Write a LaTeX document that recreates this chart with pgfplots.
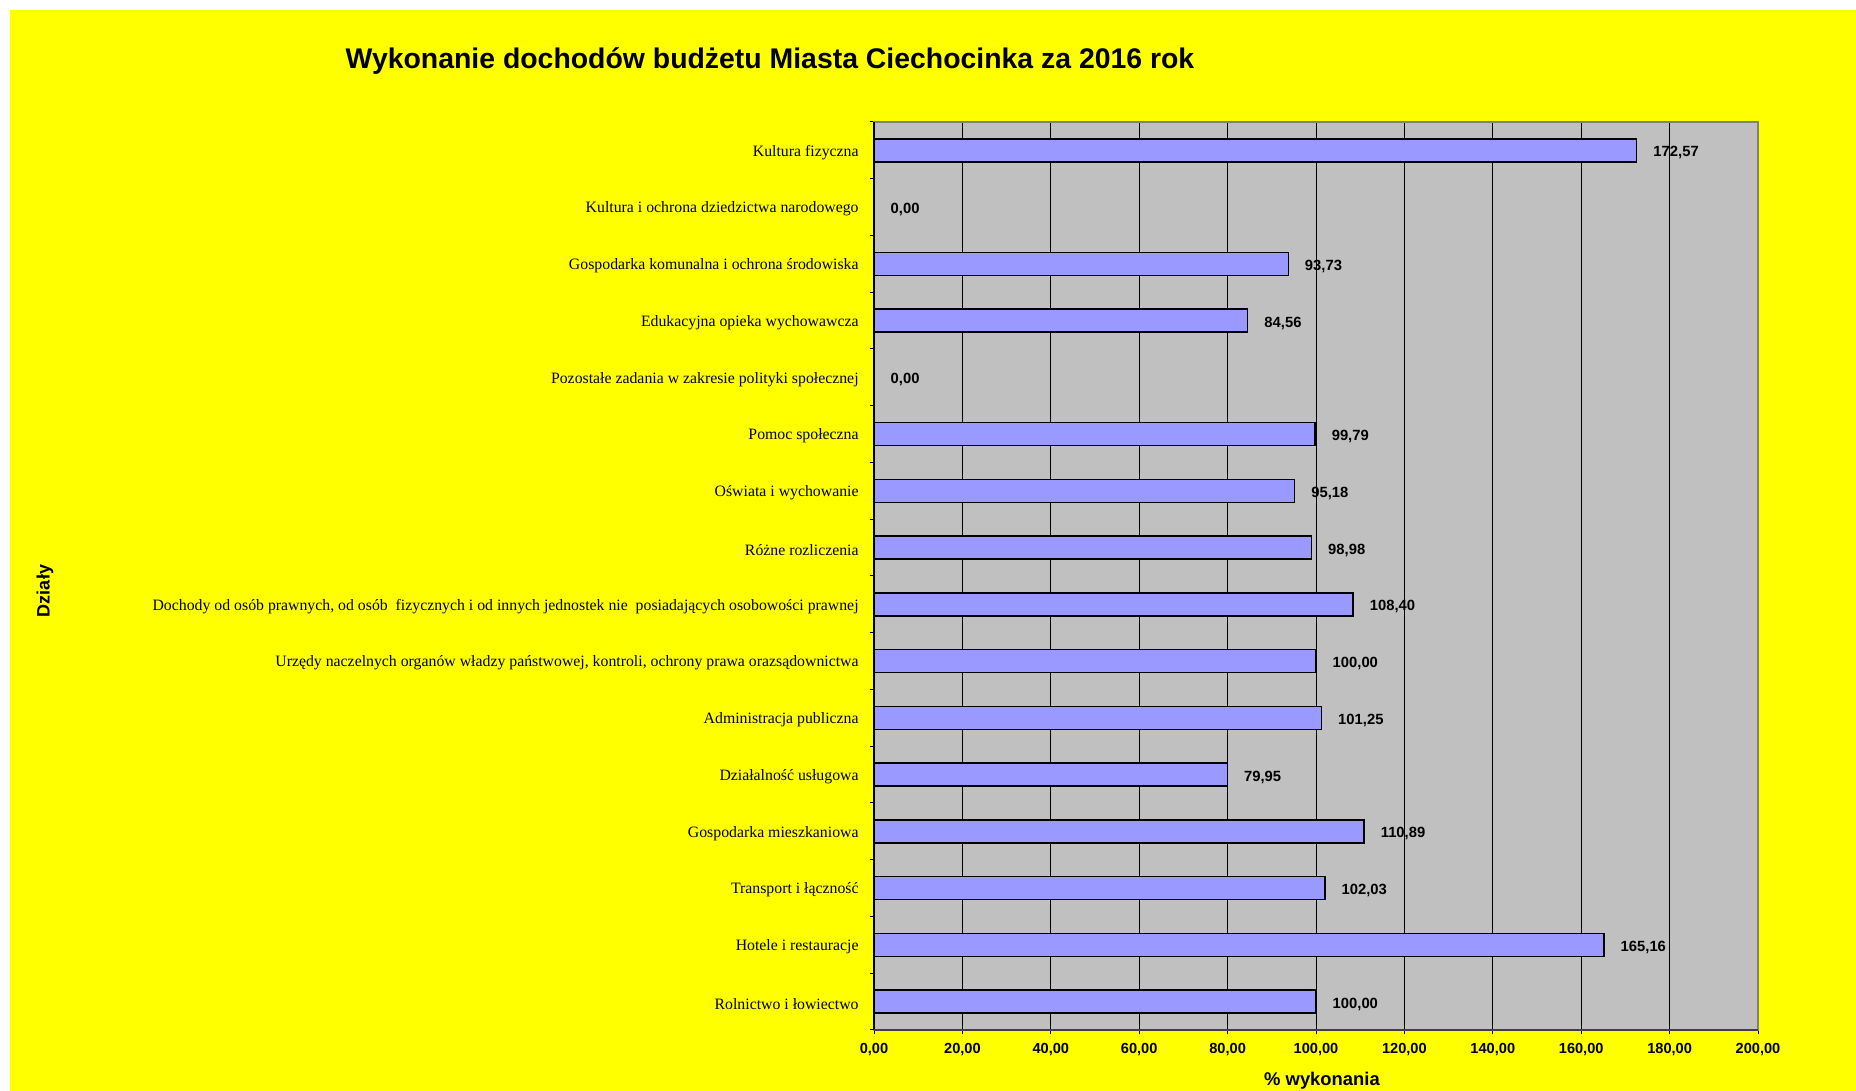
\documentclass[border=0pt]{standalone}
\usepackage{fontspec}
\setmainfont{Liberation Sans}
\newfontfamily\tnr{Liberation Serif}
\usepackage{pgfplots}
\pgfplotsset{compat=1.18}
\definecolor{bgyellow}{HTML}{FFFF00}
\definecolor{plotbg}{HTML}{C0C0C0}
\definecolor{barc}{HTML}{9999FF}
\definecolor{frame}{HTML}{808080}
\begin{document}
\begin{tikzpicture}[x=1pt,y=1pt]
\useasboundingbox (0,0) rectangle (928,545.5);
\fill[white] (0,0) rectangle (928,545.5);
\fill[bgyellow] (5,0) rectangle (928,540.5);
\node[font=\fontsize{14.2}{16}\selectfont\bfseries] at (385,515) {Wykonanie dochodów budżetu Miasta Ciechocinka za 2016 rok};
\node[font=\fontsize{9}{10}\selectfont\bfseries, rotate=90] at (22.5,250) {Działy};
\node[font=\fontsize{9.2}{10}\selectfont\bfseries, inner sep=0pt] at (661,5) {\% wykonania};
\begin{axis}[
  at={(437pt,30.5pt)}, anchor=south west,
  scale only axis, width=442pt, height=454pt,
  xbar, bar width=0.405,
  xmin=0, xmax=200, ymin=0.5, ymax=16.5,
  axis background/.style={fill=plotbg},
  axis line style={draw=frame, line width=0.75pt},
  tick align=outside,
  xtick pos=bottom, ytick pos=left,
  major tick length=2.2pt,
  tick style={black, line width=0.5pt},
  xtick={0,20,...,200},
  xmajorgrids, grid style={black, line width=0.5pt},
  xticklabel={\pgfmathprintnumber[fixed,fixed zerofill,precision=2,use comma]{\tick}},
  /pgf/number format/assume math mode=true,
  xticklabel style={font=\fontsize{7.3}{8}\selectfont\bfseries, yshift=-1pt},
  ytick={0.5,1.5,...,16.5},
  yticklabels={},
  extra y ticks={1,2,...,16},
  extra y tick style={major tick length=0pt, yticklabel style={font=\fontsize{7.9}{9}\selectfont\tnr, anchor=east, inner sep=0pt, xshift=-7.5pt, yshift=-1pt}},
  extra y tick labels={
    Rolnictwo i łowiectwo,
    Hotele i restauracje,
    Transport i łączność,
    Gospodarka mieszkaniowa,
    Działalność usługowa,
    Administracja publiczna,
    {Urzędy naczelnych organów władzy państwowej, kontroli, ochrony prawa orazsądownictwa},
    {Dochody od osób prawnych, od osób\ \ fizycznych i od innych jednostek nie\ \ posiadających osobowości prawnej},
    Różne rozliczenia,
    Oświata i wychowanie,
    Pomoc społeczna,
    Pozostałe zadania w zakresie polityki społecznej,
    Edukacyjna opieka wychowawcza,
    Gospodarka komunalna i ochrona środowiska,
    Kultura i ochrona dziedzictwa narodowego,
    Kultura fizyczna},
  point meta=x,
  nodes near coords={\pgfmathprintnumber[fixed,fixed zerofill,precision=2,use comma]{\pgfplotspointmeta}},
  every node near coord/.append style={font=\fontsize{7.4}{8}\selectfont\bfseries, anchor=west, inner sep=0pt, xshift=8pt, yshift=-1.2pt, black},
  clip=false,
]
\addplot[fill=barc, draw=black, line width=0.7pt] coordinates {
  (100.00,1) (165.16,2) (102.03,3) (110.89,4) (79.95,5) (101.25,6)
  (100.00,7) (108.40,8) (98.98,9) (95.18,10) (99.79,11) (0.00,12)
  (84.56,13) (93.73,14) (0.00,15) (172.57,16)
};
\draw[black, line width=0.75pt] (axis cs:0,0.5) -- (axis cs:0,16.5);
\draw[black!75, line width=0.75pt] (axis cs:0,0.5) -- (axis cs:200,0.5);
\end{axis}
\end{tikzpicture}
\end{document}
